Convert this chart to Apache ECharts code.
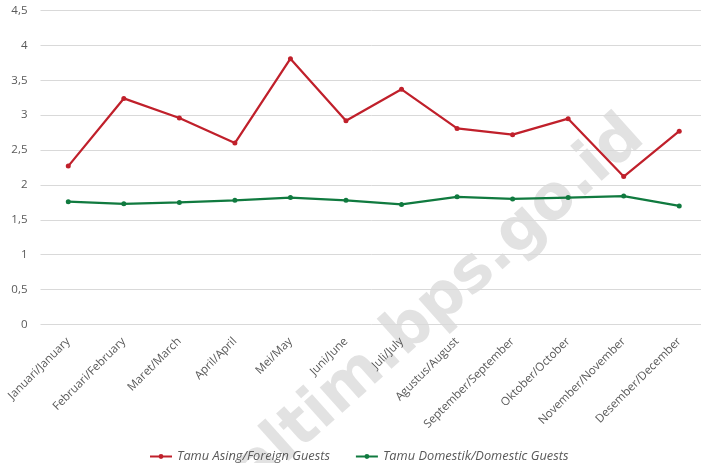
<!DOCTYPE html>
<html>
<head>
<meta charset="utf-8">
<script src="https://cdn.jsdelivr.net/npm/echarts@6/dist/echarts.min.js"></script>
<style>
html,body{margin:0;padding:0;background:#fff;}
#c{width:701px;height:463px;}
</style>
</head>
<body>
<div id="c"></div>
<script>
var categories = ["Januari/January","Februari/February","Maret/March","April/April","Mei/May","Juni/June","Juli/July","Agustus/August","September/September","Oktober/October","November/November","Desember/December"];
var foreignGuests = [2.27,3.24,2.96,2.60,3.81,2.92,3.37,2.81,2.72,2.95,2.12,2.77];
var domesticGuests = [1.76,1.73,1.75,1.78,1.82,1.78,1.72,1.83,1.80,1.82,1.84,1.70];
var seriesNames = ["Tamu Asing/Foreign Guests","Tamu Domestik/Domestic Guests"];
var yTicks = {min:0,max:4.5,interval:0.5};

var chart = echarts.init(document.getElementById('c'), null, {renderer:'canvas'});
var font = '"Open Sans", sans-serif';
chart.setOption({
  animation:false,
  backgroundColor:'#fff',
  graphic:[{
    type:'text', z:-10,
    x:424, y:318, rotation:0.73,
    style:{text:'kaltim.bps.go.id', fill:'rgba(190,190,190,0.45)', font:'bold 62px "DejaVu Sans", sans-serif', align:'center', verticalAlign:'middle'}
  }],
  grid:{left:40.5, top:10.5, width:666.5, height:314, containLabel:false, outerBoundsMode:'none'},
  legend:{
    top:445, left:144, itemGap:25, itemWidth:22, itemHeight:6,
    textStyle:{fontFamily:font, fontStyle:'italic', fontSize:12.8, color:'#595959'},
    data:seriesNames
  },
  xAxis:{
    type:'category', data:categories, boundaryGap:true,
    axisLine:{show:false}, axisTick:{show:false},
    axisLabel:{rotate:45, interval:0, fontFamily:font, fontSize:11.5, color:'#595959', margin:15}
  },
  yAxis:{
    type:'value', min:yTicks.min, max:yTicks.max, interval:yTicks.interval,
    axisLine:{show:false}, axisTick:{show:false},
    axisLabel:{fontFamily:font, fontSize:11.5, color:'#595959', margin:13,
      formatter:function(v){return String(v).replace('.',',');}},
    splitLine:{lineStyle:{color:'#d9d9d9', width:1}}
  },
  series:[
    {name:seriesNames[0], type:'line', data:foreignGuests, symbol:'circle', symbolSize:5,
     lineStyle:{color:'#c0202b', width:2.25}, itemStyle:{color:'#c0202b'}},
    {name:seriesNames[1], type:'line', data:domesticGuests, symbol:'circle', symbolSize:5,
     lineStyle:{color:'#107a3f', width:2.25}, itemStyle:{color:'#107a3f'}}
  ]
});
</script>
</body>
</html>
